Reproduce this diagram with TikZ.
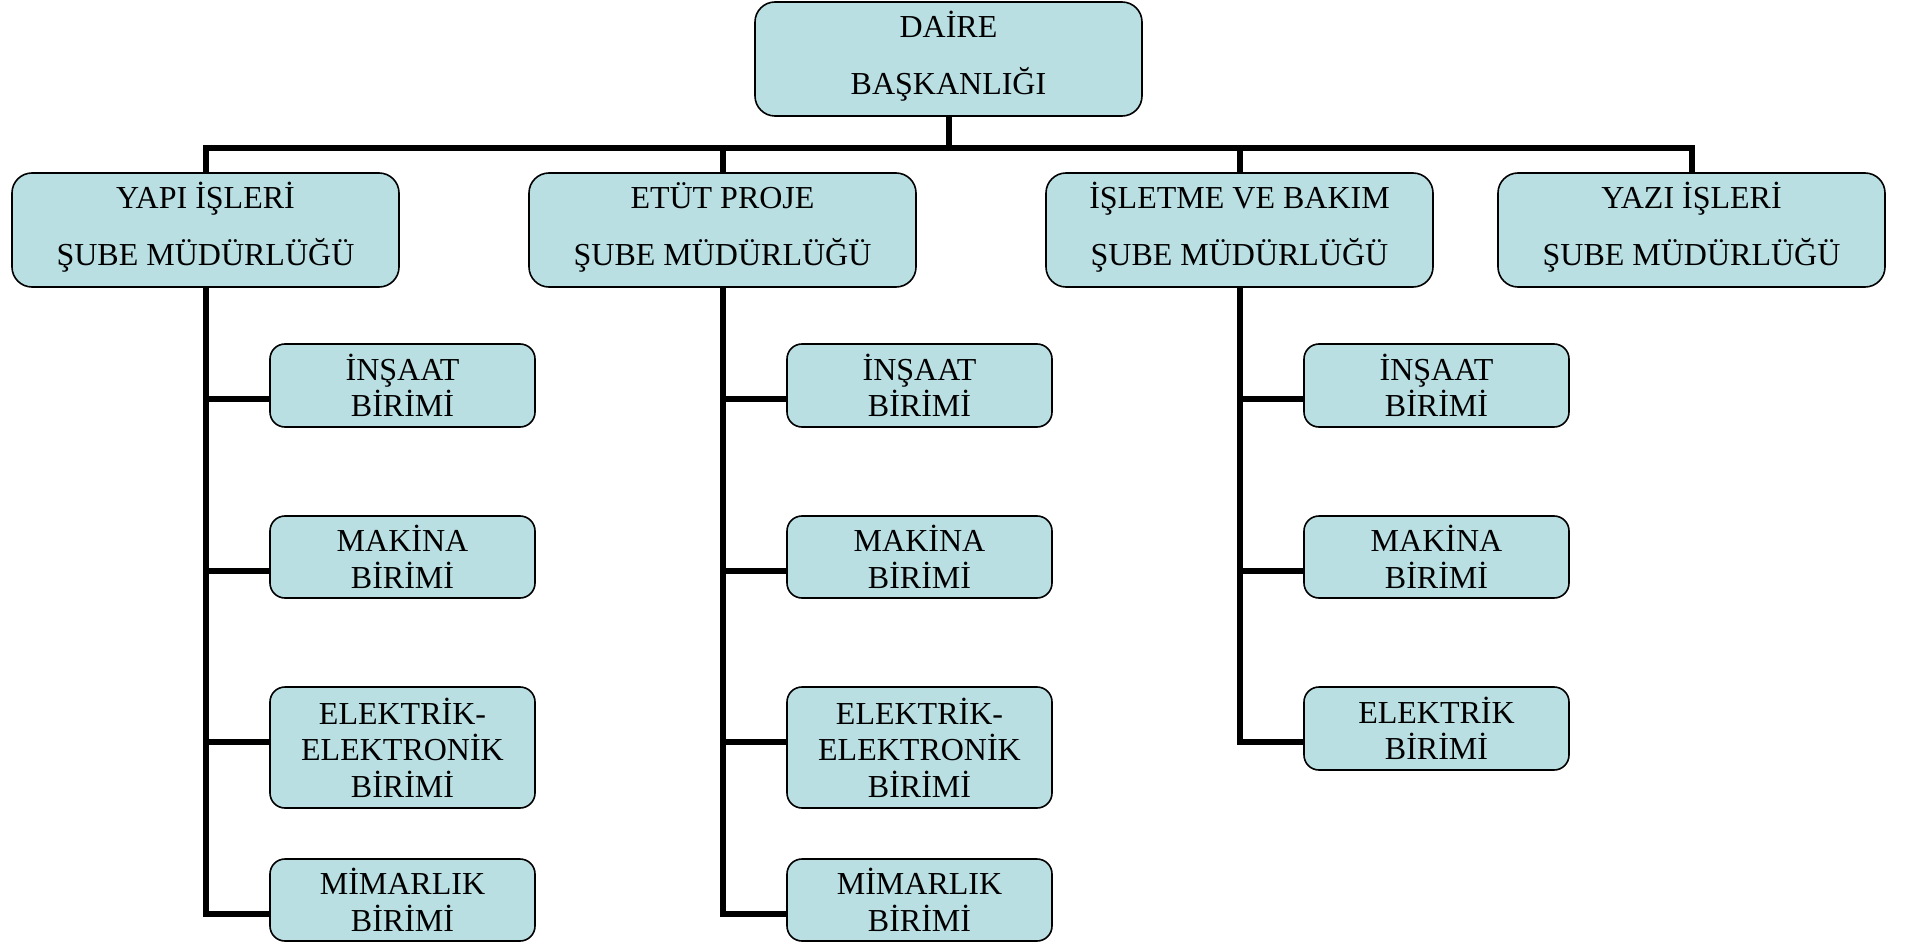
\documentclass[tikz,border=0pt]{standalone}
\usepackage{fontspec}
\setmainfont{Liberation Serif}
\usetikzlibrary{calc}
\definecolor{boxfill}{RGB}{185,223,227}
\tikzset{
  mainbox/.style={draw=black, line width=1.6pt, fill=boxfill, rounded corners=20pt,
    minimum width=387pt, minimum height=114pt, inner sep=0pt, align=center,
    text depth=12pt, font=\fontsize{32}{57}\selectfont},
  unitbox/.style={draw=black, line width=1.6pt, fill=boxfill, rounded corners=15pt,
    minimum width=265pt, inner sep=0pt, align=center,
    font=\fontsize{32}{36.5}\selectfont},
  conn/.style={draw=black, line width=6pt, line join=miter}
}
\begin{document}
\begin{tikzpicture}[x={(1pt,0pt)}, y={(0pt,-1pt)}]
\useasboundingbox (0,0) rectangle (1907,944);
\coordinate (bar) at (0,148.5);
\node[mainbox] (top) at (948.5,59) {DAİRE\\BAŞKANLIĞI};
\node[mainbox] (yapi) at (205.5,230) {YAPI İŞLERİ\\ŞUBE MÜDÜRLÜĞÜ};
\node[mainbox] (etut) at (722.5,230) {ETÜT PROJE\\ŞUBE MÜDÜRLÜĞÜ};
\node[mainbox] (isl) at (1239.5,230) {İŞLETME VE BAKIM\\ŞUBE MÜDÜRLÜĞÜ};
\node[mainbox] (yazi) at (1691.5,230) {YAZI İŞLERİ\\ŞUBE MÜDÜRLÜĞÜ};
% YAPI children
\node[unitbox, minimum height=83pt] (yins) at (402.5,385.5) {İNŞAAT\\BİRİMİ};
\node[unitbox, minimum height=82pt] (ymak) at (402.5,557) {MAKİNA\\BİRİMİ};
\node[unitbox, minimum height=121pt] (yel) at (402.5,747.5) {ELEKTRİK-\\ELEKTRONİK\\BİRİMİ};
\node[unitbox, minimum height=82pt] (ymim) at (402.5,900) {MİMARLIK\\BİRİMİ};
% ETUT children
\node[unitbox, minimum height=83pt] (eins) at (919.5,385.5) {İNŞAAT\\BİRİMİ};
\node[unitbox, minimum height=82pt] (emak) at (919.5,557) {MAKİNA\\BİRİMİ};
\node[unitbox, minimum height=121pt] (eel) at (919.5,747.5) {ELEKTRİK-\\ELEKTRONİK\\BİRİMİ};
\node[unitbox, minimum height=82pt] (emim) at (919.5,900) {MİMARLIK\\BİRİMİ};
% ISLETME children
\node[unitbox, minimum height=83pt] (iins) at (1436.5,385.5) {İNŞAAT\\BİRİMİ};
\node[unitbox, minimum height=82pt] (imak) at (1436.5,557) {MAKİNA\\BİRİMİ};
\node[unitbox, minimum height=83pt] (iel) at (1436.5,728.5) {ELEKTRİK\\BİRİMİ};
% connector coordinates
\foreach \n in {yins,ymak,yel,ymim,eins,emak,eel,emim,iins,imak,iel}{
  \coordinate (\n-c) at ($(\n.north west)+(0,56)$);
}
\draw[conn] (top.south) -- (top.south |- bar);
\draw[conn] (yapi.north) -- (yapi.north |- bar) -- (yazi.north |- bar) -- (yazi.north);
\draw[conn] (etut.north) -- (etut.north |- bar);
\draw[conn] (isl.north) -- (isl.north |- bar);
\draw[conn] (yapi.south) |- (ymim-c);
\draw[conn] (yapi.south |- yins-c) -- (yins-c);
\draw[conn] (yapi.south |- ymak-c) -- (ymak-c);
\draw[conn] (yapi.south |- yel-c) -- (yel-c);
\draw[conn] (etut.south) |- (emim-c);
\draw[conn] (etut.south |- eins-c) -- (eins-c);
\draw[conn] (etut.south |- emak-c) -- (emak-c);
\draw[conn] (etut.south |- eel-c) -- (eel-c);
\draw[conn] (isl.south) |- (iel-c);
\draw[conn] (isl.south |- iins-c) -- (iins-c);
\draw[conn] (isl.south |- imak-c) -- (imak-c);
\end{tikzpicture}
\end{document}
